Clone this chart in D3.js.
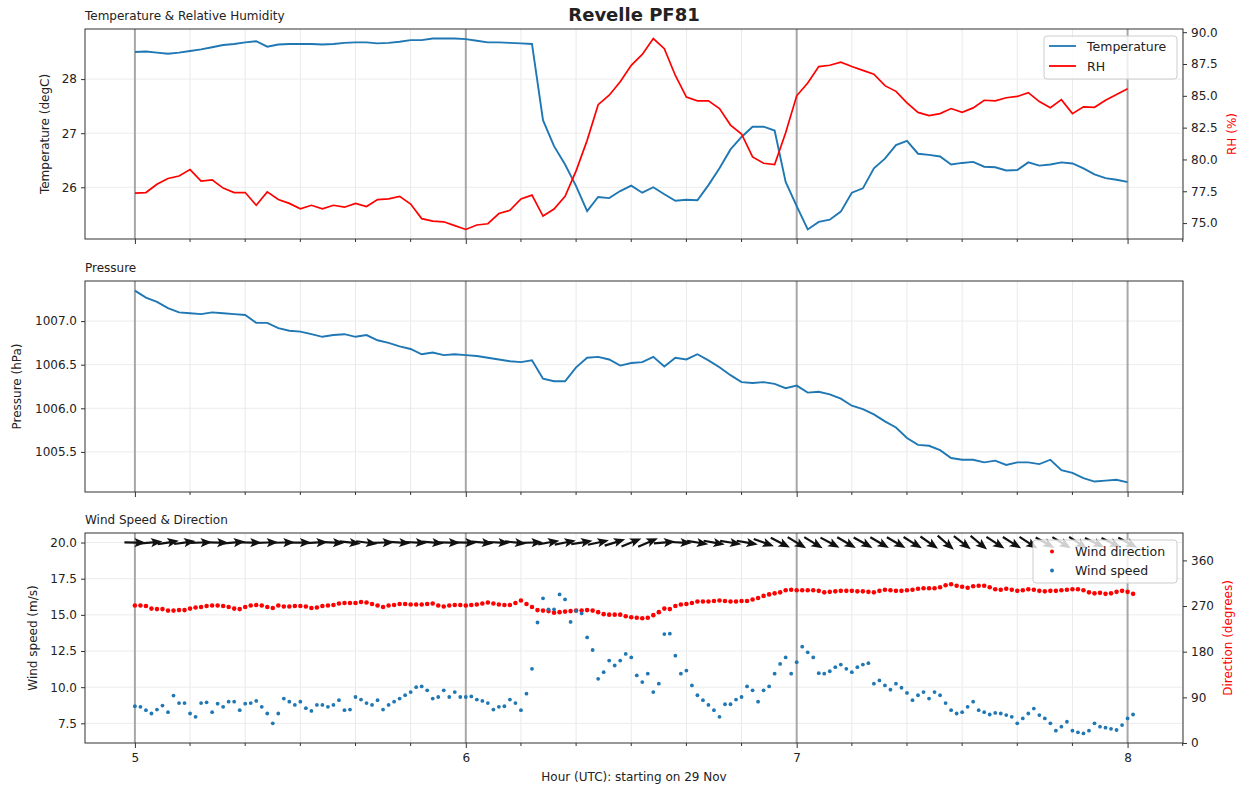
<!DOCTYPE html>
<html>
<head>
<meta charset="utf-8">
<script src="https://cdn.jsdelivr.net/npm/d3@7"></script>
<style>
  body { margin: 0; background: #fff; }
  svg text { font-family: "DejaVu Sans", sans-serif; fill: #222; }
</style>
</head>
<body>
<svg id="chart" width="1245" height="788"></svg>
<script>
// line data: one sample every 2 minutes from 05:00 UTC
const lineHours = d3.range(0, 91).map(k => 5 + (k * 2) / 60);

const temperature = [
  28.50, 28.51, 28.49, 28.47, 28.49, 28.52, 28.55, 28.59, 28.63, 28.65,
  28.68, 28.70, 28.60, 28.64, 28.65, 28.65, 28.65, 28.64, 28.65, 28.67,
  28.68, 28.68, 28.66, 28.67, 28.69, 28.72, 28.72, 28.75, 28.75, 28.75,
  28.74, 28.71, 28.68, 28.68, 28.67, 28.66, 28.65, 27.24, 26.76, 26.42,
  26.02, 25.56, 25.82, 25.80, 25.93, 26.03, 25.90, 26.00, 25.87, 25.75,
  25.77, 25.76, 26.04, 26.35, 26.70, 26.93, 27.12, 27.12, 27.05, 26.10,
  25.65, 25.22, 25.36, 25.40, 25.55, 25.90, 25.98, 26.35, 26.53, 26.78,
  26.86, 26.62, 26.60, 26.57, 26.42, 26.45, 26.47, 26.38, 26.37, 26.31,
  26.32, 26.46, 26.40, 26.42, 26.46, 26.44, 26.35, 26.24, 26.17, 26.14, 26.10
];

const rh = [
  77.35, 77.4, 78.05, 78.5, 78.7, 79.2, 78.3, 78.4, 77.75, 77.4,
  77.4, 76.4, 77.45, 76.85, 76.55, 76.12, 76.4, 76.12, 76.4, 76.25,
  76.55, 76.3, 76.85, 76.9, 77.1, 76.5, 75.35, 75.15, 75.1, 74.8,
  74.5, 74.85, 74.95, 75.75, 76.0, 76.9, 77.2, 75.55, 76.1, 77.1,
  79.1, 81.5, 84.3, 85.05, 86.1, 87.4, 88.25, 89.5, 88.7, 86.6,
  84.9, 84.6, 84.6, 84.0, 82.7, 82.0, 80.2, 79.7, 79.6, 82.1,
  85.0, 86.0, 87.3, 87.4, 87.65, 87.3, 87.0, 86.7, 85.8, 85.35,
  84.45, 83.7, 83.45, 83.6, 84.0, 83.7, 84.05, 84.65, 84.6, 84.85,
  84.95, 85.25, 84.55, 84.06, 84.7, 83.6, 84.13, 84.1, 84.65, 85.1, 85.55
];

const pressure = [
  1007.35, 1007.27, 1007.22, 1007.15, 1007.10, 1007.09, 1007.08, 1007.10, 1007.09, 1007.08,
  1007.07, 1006.98, 1006.98, 1006.92, 1006.89, 1006.88, 1006.85, 1006.82, 1006.84, 1006.85,
  1006.82, 1006.84, 1006.78, 1006.75, 1006.71, 1006.68, 1006.62, 1006.64, 1006.61, 1006.62,
  1006.61, 1006.60, 1006.58, 1006.56, 1006.54, 1006.53, 1006.55, 1006.34, 1006.31, 1006.31,
  1006.47, 1006.58, 1006.59, 1006.56, 1006.49, 1006.52, 1006.53, 1006.59, 1006.48, 1006.58,
  1006.56, 1006.62, 1006.55, 1006.47, 1006.38, 1006.30, 1006.29, 1006.30, 1006.28, 1006.23,
  1006.26, 1006.18, 1006.19, 1006.16, 1006.11, 1006.03, 1005.99, 1005.93, 1005.85, 1005.78,
  1005.66, 1005.58, 1005.57, 1005.52, 1005.43, 1005.41, 1005.41, 1005.38, 1005.40, 1005.35,
  1005.38, 1005.38, 1005.36, 1005.41, 1005.29, 1005.26, 1005.20, 1005.16, 1005.17, 1005.18, 1005.15
];

// wind data: one sample every minute from 05:00 UTC
const windHours = d3.range(0, 182).map(m => 5 + m / 60);

const windDir = [
  271, 271, 270, 265, 264, 264, 261, 261, 262, 262,
  265, 267, 268, 270, 271, 271, 270, 268, 265, 264,
  268, 271, 272, 271, 268, 266, 271, 269, 269, 270,
  270, 269, 266, 267, 270, 271, 272, 275, 276, 276,
  276, 278, 277, 274, 271, 268, 271, 272, 274, 274,
  273, 273, 273, 274, 275, 271, 269, 271, 272, 272,
  271, 272, 273, 275, 277, 275, 273, 272, 272, 276,
  281, 274, 268, 262, 261, 260, 257, 258, 259, 260,
  261, 261, 262, 261, 258, 254, 253, 253, 253, 250,
  248, 247, 246, 247, 252, 258, 265, 264, 270, 273,
  274, 276, 279, 279, 279, 280, 281, 280, 279, 279,
  280, 280, 283, 286, 290, 293, 295, 297, 301, 302,
  301, 301, 301, 301, 300, 297, 298, 299, 300, 300,
  300, 299, 299, 298, 297, 300, 302, 301, 300, 300,
  301, 302, 304, 305, 305, 305, 307, 311, 313, 310,
  308, 306, 309, 310, 310, 307, 303, 302, 304, 302,
  300, 301, 303, 302, 300, 299, 300, 300, 301, 302,
  303, 303, 301, 297, 295, 296, 294, 295, 298, 300,
  298, 294
];

const windSpeed = [
  8.68, 8.64, 8.41, 8.18, 8.45, 8.73, 8.27, 9.42, 8.9, 8.9,
  8.18, 7.95, 8.9, 8.95, 8.27, 8.86, 8.64, 9.0, 9.0, 8.41,
  8.86, 8.9, 9.05, 8.64, 8.18, 7.5, 8.18, 9.21, 9.0, 8.77,
  9.0, 8.55, 8.36, 8.77, 8.77, 8.64, 8.77, 9.1, 8.41, 8.45,
  9.32, 9.14, 8.9, 8.77, 9.1, 8.45, 8.77, 9.0, 9.21, 9.45,
  9.66, 10.0, 10.05, 9.78, 9.21, 9.32, 9.78, 9.32, 9.66, 9.32,
  9.32, 9.36, 9.14, 9.05, 8.9, 8.45, 8.64, 8.68, 9.14, 8.9,
  8.41, 9.55, 11.27, 14.47, 16.14, 15.38, 15.38, 16.41, 16.07, 14.51,
  15.27, 15.1, 13.44, 12.57, 10.58, 11.04, 11.84, 11.5, 11.84, 12.3,
  12.06, 10.81, 10.35, 10.93, 9.66, 10.24, 13.67, 13.7, 12.18, 10.93,
  11.15, 10.12, 9.44, 9.1, 8.77, 8.41, 7.95, 8.82, 8.82, 9.14,
  9.32, 10.05, 9.78, 9.0, 9.78, 10.05, 10.93, 11.61, 12.06, 10.93,
  11.73, 12.8, 12.41, 12.06, 10.97, 10.93, 11.1, 11.38, 11.56, 11.27,
  11.04, 11.38, 11.56, 11.66, 10.24, 10.47, 10.12, 9.83, 10.24, 9.96,
  9.6, 9.1, 9.44, 9.66, 9.21, 9.66, 9.44, 8.9, 8.41, 8.18,
  8.27, 8.64, 9.0, 8.41, 8.27, 8.11, 8.22, 8.18, 8.07, 7.95,
  7.5, 7.84, 8.18, 8.52, 8.07, 7.84, 7.5, 6.99, 7.27, 7.61,
  6.99, 6.88, 6.8, 6.99, 7.5, 7.27, 7.2, 7.12, 7.04, 7.38,
  7.84, 8.11
];

const arrowLevel = 20;      // wind arrows drawn along this speed value
const arrowEvery = 3;       // one arrow per 3 minutes

const tempTicks = [26, 27, 28];
const rhTicks = [75, 77.5, 80, 82.5, 85, 87.5, 90];
const pressureTicks = [1005.5, 1006, 1006.5, 1007];
const speedTicks = [7.5, 10, 12.5, 15, 17.5, 20];
const dirTicks = [0, 90, 180, 270, 360];
const hourTicks = [5, 6, 7, 8];

const blue = "#1f77b4";
const red = "#ff0000";

// layout
const left = 85, right = 1183;
const panels = [
  { top: 29, bottom: 239 },
  { top: 281, bottom: 492 },
  { top: 533, bottom: 743 }
];

const svg = d3.select("#chart");

// matplotlib style 5% padding
function pad(ext) {
  const d = (ext[1] - ext[0]) * 0.05;
  return [ext[0] - d, ext[1] + d];
}

const x = d3.scaleLinear()
  .domain(pad(d3.extent(lineHours.concat(windHours))))
  .range([left, right]);

const minorTicks = d3.range(5 * 6, 8 * 6 + 2).map(t => t / 6)
  .filter(t => x(t) > left && x(t) < right);

function drawGrid(g, p, y, yTicks) {
  g.selectAll(".vminor").data(minorTicks).enter().append("line")
    .attr("x1", d => x(d)).attr("x2", d => x(d))
    .attr("y1", p.top).attr("y2", p.bottom)
    .attr("stroke", "#e9e9e9").attr("stroke-width", 1);
  g.selectAll(".hgrid").data(yTicks).enter().append("line")
    .attr("x1", left).attr("x2", right)
    .attr("y1", d => y(d)).attr("y2", d => y(d))
    .attr("stroke", "#ececec").attr("stroke-width", 1);
  g.selectAll(".vmajor").data(hourTicks).enter().append("line")
    .attr("x1", d => x(d)).attr("x2", d => x(d))
    .attr("y1", p.top).attr("y2", p.bottom)
    .attr("stroke", "#a8a8a8").attr("stroke-width", 2);
}

function drawFrame(g, p, showLabels) {
  // bottom axis: major and minor ticks
  const ax = g.append("g").attr("transform", `translate(0,${p.bottom})`)
    .call(d3.axisBottom(x).tickValues(hourTicks).tickSize(5).tickPadding(5)
      .tickFormat(showLabels ? d3.format("d") : ""));
  ax.select(".domain").remove();
  ax.selectAll("text").attr("font-size", 12).attr("font-family", "DejaVu Sans");
  ax.selectAll("line").attr("stroke", "#333");
  g.selectAll(".minortick").data(minorTicks.filter(t => Math.abs(t - Math.round(t)) > 0.01))
    .enter().append("line")
    .attr("x1", d => x(d)).attr("x2", d => x(d))
    .attr("y1", p.bottom).attr("y2", p.bottom + 3)
    .attr("stroke", "#333");
  g.append("rect")
    .attr("x", left).attr("y", p.top)
    .attr("width", right - left).attr("height", p.bottom - p.top)
    .attr("fill", "none").attr("stroke", "#333").attr("stroke-width", 1);
}

function leftAxis(g, y, ticks, fmt) {
  const a = g.append("g").attr("transform", `translate(${left},0)`)
    .call(d3.axisLeft(y).tickValues(ticks).tickSize(4).tickPadding(4).tickFormat(d3.format(fmt)));
  a.select(".domain").remove();
  a.selectAll("text").attr("font-size", 12).attr("font-family", "DejaVu Sans");
  a.selectAll("line").attr("stroke", "#333");
}

function rightAxis(g, y, ticks, fmt) {
  const a = g.append("g").attr("transform", `translate(${right},0)`)
    .call(d3.axisRight(y).tickValues(ticks).tickSize(4).tickPadding(4).tickFormat(d3.format(fmt)));
  a.select(".domain").remove();
  a.selectAll("text").attr("font-size", 12).attr("font-family", "DejaVu Sans");
  a.selectAll("line").attr("stroke", "#333");
}

function yLabel(text, cx, cy, color) {
  svg.append("text")
    .attr("transform", `translate(${cx},${cy}) rotate(-90)`)
    .attr("text-anchor", "middle").attr("dominant-baseline", "central")
    .attr("font-size", 12).style("fill", color || "#222")
    .text(text);
}

function panelTitle(text, yb) {
  svg.append("text").attr("x", left).attr("y", yb)
    .attr("font-size", 12).text(text);
}

// ---------- panel 1: temperature & RH ----------
{
  const p = panels[0];
  const g = svg.append("g");
  const yT = d3.scaleLinear().domain(pad(d3.extent(temperature))).range([p.bottom, p.top]);
  const yR = d3.scaleLinear().domain(pad(d3.extent(rh))).range([p.bottom, p.top]);
  drawGrid(g, p, yT, tempTicks);

  g.append("path").datum(lineHours)
    .attr("fill", "none").attr("stroke", blue).attr("stroke-width", 1.9)
    .attr("d", d3.line().x(d => x(d)).y((d, i) => yT(temperature[i])));
  g.append("path").datum(lineHours)
    .attr("fill", "none").attr("stroke", red).attr("stroke-width", 1.7)
    .attr("d", d3.line().x(d => x(d)).y((d, i) => yR(rh[i])));

  drawFrame(g, p, false);
  leftAxis(g, yT, tempTicks, "d");
  rightAxis(g, yR, rhTicks, ".1f");
  yLabel("Temperature (degC)", 45, (p.top + p.bottom) / 2);
  yLabel("RH (%)", 1232, (p.top + p.bottom) / 2, red);
  panelTitle("Temperature & Relative Humidity", 20);

  // legend
  const lg = g.append("g");
  lg.append("rect").attr("x", 1044).attr("y", 36).attr("width", 133).attr("height", 43)
    .attr("rx", 3).attr("fill", "#fff").attr("fill-opacity", 0.8).attr("stroke", "#ccc");
  [["Temperature", blue, 46], ["RH", red, 66]].forEach(([t, c, yy]) => {
    lg.append("line").attr("x1", 1049).attr("x2", 1076).attr("y1", yy).attr("y2", yy)
      .attr("stroke", c).attr("stroke-width", 1.8);
    lg.append("text").attr("x", 1087).attr("y", yy + 4.5).attr("font-size", 12.5).text(t);
  });
}

// ---------- panel 2: pressure ----------
{
  const p = panels[1];
  const g = svg.append("g");
  const yP = d3.scaleLinear().domain(pad(d3.extent(pressure))).range([p.bottom, p.top]);
  drawGrid(g, p, yP, pressureTicks);
  g.append("path").datum(lineHours)
    .attr("fill", "none").attr("stroke", blue).attr("stroke-width", 1.9)
    .attr("d", d3.line().x(d => x(d)).y((d, i) => yP(pressure[i])));
  drawFrame(g, p, false);
  leftAxis(g, yP, pressureTicks, ".1f");
  yLabel("Pressure (hPa)", 17, (p.top + p.bottom) / 2);
  panelTitle("Pressure", 272);
}

// ---------- panel 3: wind ----------
{
  const p = panels[2];
  const g = svg.append("g");
  const yS = d3.scaleLinear().domain(pad(d3.extent(windSpeed.concat([arrowLevel])))).range([p.bottom, p.top]);
  const yD = d3.scaleLinear().domain([0, 414]).range([p.bottom, p.top]);
  drawGrid(g, p, yS, speedTicks);

  g.selectAll(".dir").data(windHours).enter().append("circle")
    .attr("cx", d => x(d)).attr("cy", (d, i) => yD(windDir[i]))
    .attr("r", 2.3).attr("fill", red);
  g.selectAll(".spd").data(windHours).enter().append("circle")
    .attr("cx", d => x(d)).attr("cy", (d, i) => yS(windSpeed[i]))
    .attr("r", 1.9).attr("fill", blue);

  // wind arrows, pointing where the wind blows to
  const arrowIdx = windHours.map((d, i) => i).filter(i => i % arrowEvery === 0);
  const arrowShape = "M-10.5,-1.1L1.5,-1.1L-0.5,-4.6L11,0L-0.5,4.6L1.5,1.1L-10.5,1.1Z";
  g.selectAll(".arrow").data(arrowIdx).enter().append("path")
    .attr("d", arrowShape)
    .attr("fill", "#111")
    .attr("transform", i => `translate(${x(windHours[i])},${yS(arrowLevel)}) rotate(${windDir[i] - 270})`);

  drawFrame(g, p, true);
  leftAxis(g, yS, speedTicks, ".1f");
  rightAxis(g, yD, dirTicks, "d");
  yLabel("Wind speed (m/s)", 33, (p.top + p.bottom) / 2);
  yLabel("Direction (degrees)", 1228, (p.top + p.bottom) / 2, red);
  panelTitle("Wind Speed & Direction", 524);

  const lg = g.append("g");
  lg.append("rect").attr("x", 1033).attr("y", 540).attr("width", 144).attr("height", 43)
    .attr("rx", 3).attr("fill", "#fff").attr("fill-opacity", 0.8).attr("stroke", "#ccc");
  [["Wind direction", red, 551.5], ["Wind speed", blue, 570.5]].forEach(([t, c, yy]) => {
    lg.append("circle").attr("cx", 1052).attr("cy", yy).attr("r", 2).attr("fill", c);
    lg.append("text").attr("x", 1075).attr("y", yy + 4.5).attr("font-size", 12.5).text(t);
  });
}

// titles
svg.append("text").attr("x", (left + right) / 2).attr("y", 21)
  .attr("text-anchor", "middle").attr("font-size", 18).attr("font-weight", "bold")
  .text("Revelle PF81");
svg.append("text").attr("x", (left + right) / 2).attr("y", 781)
  .attr("text-anchor", "middle").attr("font-size", 12)
  .text("Hour (UTC): starting on 29 Nov");
</script>
</body>
</html>
